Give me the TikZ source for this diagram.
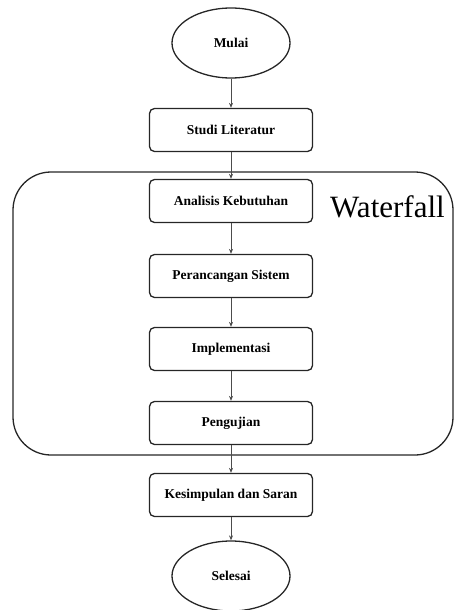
\documentclass[tikz,border=0pt]{standalone}
\usepackage{fontspec}
\setmainfont{Liberation Serif}
\usetikzlibrary{shapes.geometric,arrows.meta}
\begin{document}
\begin{tikzpicture}[x=1pt,y=-1pt,
  box/.style={draw=black!85,line width=1.3pt,rounded corners=5pt,minimum width=163pt,minimum height=43pt,inner sep=0pt,font=\bfseries\fontsize{13.5}{15}\selectfont},
  oval/.style={draw=black!85,line width=1.3pt,ellipse,minimum width=118pt,minimum height=70pt,inner sep=0pt,font=\bfseries\fontsize{13.5}{15}\selectfont},
  conn/.style={draw=black!70,line width=0.7pt,-{Stealth[length=5pt,width=4pt]}}]
\useasboundingbox (0,0) rectangle (454,610);
\draw[draw=black!85,line width=1.3pt,rounded corners=38pt] (13,172) rectangle (453,455);
\node[oval] (mulai) at (231,43) {Mulai};
\node[box] (studi) at (231,130) {Studi Literatur};
\node[box] (analisis) at (231,201) {Analisis Kebutuhan};
\node[box] (perancangan) at (231,276) {Perancangan Sistem};
\node[box] (impl) at (231,349) {Implementasi};
\node[box] (uji) at (231,423) {Pengujian};
\node[box] (simpul) at (231,495) {Kesimpulan dan Saran};
\node[oval] (selesai) at (231,576) {Selesai};
\node[font=\fontsize{31}{33}\selectfont,anchor=base west,inner sep=0pt] (wf) at (330,217) {Waterfall};
\draw[conn] (mulai) -- (studi);
\draw[conn] (studi) -- (analisis);
\draw[conn] (analisis) -- (perancangan);
\draw[conn] (perancangan) -- (impl);
\draw[conn] (impl) -- (uji);
\draw[conn] (uji) -- (simpul);
\draw[conn] (simpul) -- (selesai);
\end{tikzpicture}
\end{document}
